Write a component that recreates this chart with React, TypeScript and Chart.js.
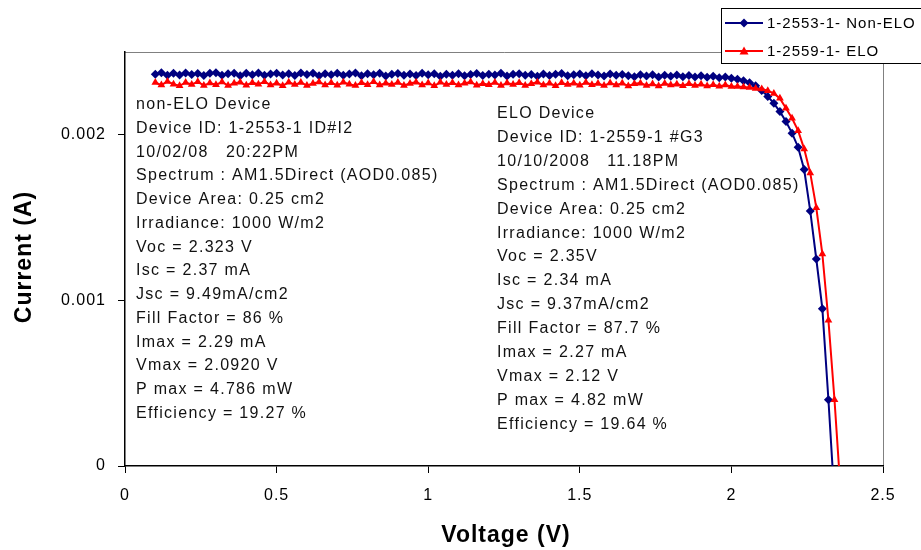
import { useEffect, useRef } from 'react';
import { Chart, registerables } from 'chart.js';

Chart.register(...registerables);

// ---------- data ----------
const voltage = [
  0.10, 0.12, 0.14, 0.16, 0.18, 0.20, 0.22, 0.24, 0.26, 0.28,
  0.30, 0.32, 0.34, 0.36, 0.38, 0.40, 0.42, 0.44, 0.46, 0.48,
  0.50, 0.52, 0.54, 0.56, 0.58, 0.60, 0.62, 0.64, 0.66, 0.68,
  0.70, 0.72, 0.74, 0.76, 0.78, 0.80, 0.82, 0.84, 0.86, 0.88,
  0.90, 0.92, 0.94, 0.96, 0.98, 1.00, 1.02, 1.04, 1.06, 1.08,
  1.10, 1.12, 1.14, 1.16, 1.18, 1.20, 1.22, 1.24, 1.26, 1.28,
  1.30, 1.32, 1.34, 1.36, 1.38, 1.40, 1.42, 1.44, 1.46, 1.48,
  1.50, 1.52, 1.54, 1.56, 1.58, 1.60, 1.62, 1.64, 1.66, 1.68,
  1.70, 1.72, 1.74, 1.76, 1.78, 1.80, 1.82, 1.84, 1.86, 1.88,
  1.90, 1.92, 1.94, 1.96, 1.98, 2.00, 2.02, 2.04, 2.06, 2.08,
  2.10, 2.12, 2.14, 2.16, 2.18, 2.20, 2.22, 2.24, 2.26, 2.28,
  2.30, 2.32, 2.34, 2.36,
];

const currentNonELO = [
  0.002365, 0.002374, 0.002360, 0.002372, 0.002361, 0.002373, 0.002364, 0.002370, 0.002358, 0.002371,
  0.002374, 0.002360, 0.002368, 0.002372, 0.002357, 0.002371, 0.002363, 0.002373, 0.002359, 0.002367,
  0.002372, 0.002361, 0.002369, 0.002358, 0.002373, 0.002364, 0.002371, 0.002356, 0.002368, 0.002362,
  0.002371, 0.002359, 0.002367, 0.002373, 0.002357, 0.002368, 0.002363, 0.002372, 0.002355, 0.002366,
  0.002370, 0.002360, 0.002367, 0.002358, 0.002371, 0.002362, 0.002369, 0.002354, 0.002365, 0.002359,
  0.002368, 0.002356, 0.002364, 0.002370, 0.002358, 0.002366, 0.002361, 0.002371, 0.002355, 0.002365,
  0.002369, 0.002359, 0.002364, 0.002354, 0.002367, 0.002358, 0.002365, 0.002370, 0.002356, 0.002363,
  0.002367, 0.002357, 0.002368, 0.002361, 0.002355, 0.002367, 0.002359, 0.002364, 0.002356, 0.002351,
  0.002362, 0.002355, 0.002363, 0.002349, 0.002359, 0.002354, 0.002361, 0.002351, 0.002358, 0.002349,
  0.002356, 0.002347, 0.002353, 0.002345, 0.002349, 0.002342, 0.002335, 0.002326, 0.002314, 0.002296,
  0.002268, 0.002232, 0.002190, 0.002140, 0.002080, 0.002010, 0.001925, 0.001790, 0.001540, 0.001250,
  0.000950, 0.000400, -0.000200,
];

const currentELO = [
  0.002316, 0.002300, 0.002322, 0.002306, 0.002296, 0.002316, 0.002304, 0.002320, 0.002298, 0.002313,
  0.002302, 0.002319, 0.002297, 0.002311, 0.002317, 0.002299, 0.002315, 0.002305, 0.002321, 0.002300,
  0.002312, 0.002296, 0.002318, 0.002303, 0.002316, 0.002298, 0.002310, 0.002319, 0.002301, 0.002314,
  0.002299, 0.002317, 0.002305, 0.002297, 0.002315, 0.002302, 0.002320, 0.002300, 0.002312, 0.002304,
  0.002316, 0.002298, 0.002310, 0.002318, 0.002301, 0.002313, 0.002296, 0.002317, 0.002303, 0.002314,
  0.002300, 0.002312, 0.002319, 0.002299, 0.002309, 0.002302, 0.002316, 0.002297, 0.002313, 0.002304,
  0.002315, 0.002298, 0.002308, 0.002318, 0.002300, 0.002311, 0.002296, 0.002314, 0.002303, 0.002312,
  0.002299, 0.002316, 0.002302, 0.002310, 0.002297, 0.002313, 0.002301, 0.002311, 0.002295, 0.002308,
  0.002312, 0.002298, 0.002307, 0.002294, 0.002310, 0.002300, 0.002306, 0.002296, 0.002309, 0.002297,
  0.002305, 0.002294, 0.002302, 0.002293, 0.002300, 0.002292, 0.002292, 0.002288, 0.002286, 0.002280,
  0.002276, 0.002266, 0.002250, 0.002220, 0.002160, 0.002100, 0.002025, 0.001915, 0.001770, 0.001560,
  0.001280, 0.000880, 0.000400, -0.000150,
];

const seriesNames = ['1-2553-1- Non-ELO', '1-2559-1- ELO'];
const seriesColors = ['#000080', '#ff0000'];

const xTicks = [0, 0.5, 1, 1.5, 2, 2.5];
const xTickLabels = ['0', '0.5', '1', '1.5', '2', '2.5'];
const yTicks = [0, 0.001, 0.002];
const yTickLabels = ['0', '0.001', '0.002'];

const xTitle = 'Voltage (V)';
const yTitle = 'Current (A)';

const nonEloNotes = [
  'non-ELO Device',
  'Device ID: 1-2553-1 ID#I2',
  '10/02/08   20:22PM',
  'Spectrum : AM1.5Direct (AOD0.085)',
  'Device Area: 0.25 cm2',
  'Irradiance: 1000 W/m2',
  'Voc = 2.323 V',
  'Isc = 2.37 mA',
  'Jsc = 9.49mA/cm2',
  'Fill Factor = 86 %',
  'Imax = 2.29 mA',
  'Vmax = 2.0920 V',
  'P max = 4.786 mW',
  'Efficiency = 19.27 %',
];

const eloNotes = [
  'ELO Device',
  'Device ID: 1-2559-1 #G3',
  '10/10/2008   11.18PM',
  'Spectrum : AM1.5Direct (AOD0.085)',
  'Device Area: 0.25 cm2',
  'Irradiance: 1000 W/m2',
  'Voc = 2.35V',
  'Isc = 2.34 mA',
  'Jsc = 9.37mA/cm2',
  'Fill Factor = 87.7 %',
  'Imax = 2.27 mA',
  'Vmax = 2.12 V',
  'P max = 4.82 mW',
  'Efficiency = 19.64 %',
];

const FONT = '"Liberation Sans", Arial, sans-serif';

function drawDiamond(ctx: CanvasRenderingContext2D, x: number, y: number, r: number, c: string) {
  ctx.beginPath();
  ctx.moveTo(x, y - r);
  ctx.lineTo(x + r, y);
  ctx.lineTo(x, y + r);
  ctx.lineTo(x - r, y);
  ctx.closePath();
  ctx.fillStyle = c;
  ctx.fill();
}

function drawTriangle(ctx: CanvasRenderingContext2D, x: number, y: number, r: number, c: string) {
  ctx.beginPath();
  ctx.moveTo(x, y - r);
  ctx.lineTo(x + r, y + r * 0.75);
  ctx.lineTo(x - r, y + r * 0.75);
  ctx.closePath();
  ctx.fillStyle = c;
  ctx.fill();
}

const extrasPlugin = {
  id: 'extras',
  beforeDraw(chart: any) {
    const { ctx, chartArea: a } = chart;
    ctx.save();
    ctx.fillStyle = '#ffffff';
    ctx.fillRect(0, 0, chart.width, chart.height);
    ctx.strokeStyle = '#808080';
    ctx.lineWidth = 1;
    ctx.beginPath();
    ctx.moveTo(a.left, Math.round(a.top) + 0.5);
    ctx.lineTo(Math.round(a.right) + 0.5, Math.round(a.top) + 0.5);
    ctx.lineTo(Math.round(a.right) + 0.5, a.bottom);
    ctx.stroke();
    ctx.restore();
    // wider spacing for tick labels, like the original's bitmap font
    (ctx as any).letterSpacing = '1px';
  },
  beforeDatasetsDraw(chart: any) {
    const { ctx } = chart;
    ctx.save();
    ctx.fillStyle = '#111111';
    ctx.font = `16px ${FONT}`;
    (ctx as any).letterSpacing = '1.3px';
    ctx.textAlign = 'left';
    ctx.textBaseline = 'alphabetic';
    nonEloNotes.forEach((t, i) => ctx.fillText(t, 136, 109 + i * 23.77));
    eloNotes.forEach((t, i) => ctx.fillText(t, 497, 118 + i * 23.9));
    ctx.restore();
  },
  afterDraw(chart: any) {
    const { ctx, chartArea: a } = chart;
    ctx.save();
    // axis titles
    ctx.fillStyle = '#000000';
    ctx.font = `bold 23px ${FONT}`;
    (ctx as any).letterSpacing = '1px';
    ctx.textAlign = 'center';
    ctx.textBaseline = 'middle';
    ctx.fillText(xTitle, (a.left + a.right) / 2 + 2, 536);
    ctx.save();
    ctx.translate(25, 257);
    ctx.rotate(-Math.PI / 2);
    ctx.fillText(yTitle, 0, 0);
    ctx.restore();

    // legend
    const bx = 721, by = 8, bw = 210, bh = 55;
    ctx.fillStyle = '#ffffff';
    ctx.fillRect(bx, by, bw, bh);
    ctx.strokeStyle = '#000000';
    ctx.lineWidth = 1;
    ctx.strokeRect(bx + 0.5, by + 0.5, bw, bh);
    const rows = [23, 51];
    seriesNames.forEach((name, i) => {
      const y = rows[i];
      ctx.strokeStyle = seriesColors[i];
      ctx.lineWidth = 2;
      ctx.beginPath();
      ctx.moveTo(725, y);
      ctx.lineTo(763, y);
      ctx.stroke();
      if (i === 0) drawDiamond(ctx, 744, y, 4.5, seriesColors[i]);
      else drawTriangle(ctx, 744, y, 4.5, seriesColors[i]);
      ctx.fillStyle = '#000000';
      ctx.font = `15px ${FONT}`;
      (ctx as any).letterSpacing = '1px';
      ctx.textAlign = 'left';
      ctx.textBaseline = 'middle';
      ctx.fillText(name, 767, y + 1);
    });
    ctx.restore();
  },
};

export default function App() {
  const ref = useRef<HTMLCanvasElement | null>(null);

  useEffect(() => {
    if (!ref.current) return;
    const chart = new Chart(ref.current, {
      type: 'line',
      data: {
        datasets: [
          {
            label: seriesNames[0],
            data: currentNonELO.map((c, i) => ({ x: voltage[i], y: c })),
            borderColor: seriesColors[0],
            backgroundColor: seriesColors[0],
            borderWidth: 2,
            pointStyle: 'rectRot',
            pointRadius: 4.5,
            pointBorderWidth: 0,
            pointBackgroundColor: seriesColors[0],
            tension: 0,
            order: 1,
          },
          {
            label: seriesNames[1],
            data: currentELO.map((c, i) => ({ x: voltage[i], y: c })),
            borderColor: seriesColors[1],
            backgroundColor: seriesColors[1],
            borderWidth: 2,
            pointStyle: 'triangle',
            pointRadius: 4.5,
            pointBorderWidth: 0,
            pointBackgroundColor: seriesColors[1],
            tension: 0,
            order: 0,
          },
        ],
      },
      options: {
        responsive: false,
        animation: false,
        events: [],
        layout: { padding: { top: 52, right: 38, left: 0, bottom: 0 } },
        plugins: {
          legend: { display: false },
          tooltip: { enabled: false },
          title: { display: false },
        },
        scales: {
          x: {
            type: 'linear',
            min: 0,
            max: 2.5,
            afterBuildTicks: (s: any) => {
              s.ticks = xTicks.map((v) => ({ value: v }));
            },
            afterFit: (s: any) => {
              s.height = 84;
            },
            ticks: {
              callback: (_v: any, i: number) => xTickLabels[i],
              font: { family: FONT, size: 16 },
              color: '#000000',
              padding: 13,
              maxRotation: 0,
            },
            grid: { drawOnChartArea: false, drawTicks: true, tickLength: 7, color: '#000000', lineWidth: 1 },
            border: { color: '#000000', width: 1.5 },
          },
          y: {
            type: 'linear',
            min: 0,
            max: 0.0025,
            afterBuildTicks: (s: any) => {
              s.ticks = yTicks.map((v) => ({ value: v }));
            },
            afterFit: (s: any) => {
              s.width = 125;
            },
            ticks: {
              callback: (_v: any, i: number) => yTickLabels[i],
              font: { family: FONT, size: 16 },
              color: '#000000',
              padding: 12,
            },
            grid: { drawOnChartArea: false, drawTicks: true, tickLength: 7, color: '#000000', lineWidth: 1 },
            border: { color: '#000000', width: 1.5 },
          },
        },
      },
      plugins: [extrasPlugin],
    });
    return () => chart.destroy();
  }, []);

  return (
    <div style={{ position: 'absolute', left: 0, top: 0, width: 921, height: 550 }}>
      <canvas ref={ref} width={921} height={550} style={{ display: 'block' }} />
    </div>
  );
}
